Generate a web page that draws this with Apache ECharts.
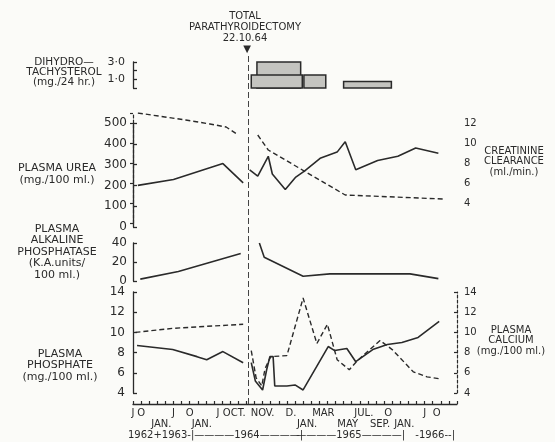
<!DOCTYPE html>
<html><head><meta charset="utf-8">
<script src="https://cdn.jsdelivr.net/npm/echarts/dist/echarts.min.js"></script>
<style>html,body{margin:0;padding:0;background:#fbfbf8}#c{width:555px;height:442px}</style>
</head><body><div id="c"></div><script>
// ---- data (x in axis-position units: one unit per axis tick) ----
const surgeryPos = 14.2;
const doseBoxes = [[15.3, 20.7, 3.0], [14.6, 20.9, 1.5], [21.1, 23.8, 1.5], [26.0, 31.9, 0.75]];
const ureaPre = [[0.6, 200], [5.0, 228], [11.1, 305], [13.6, 212]];
const ureaPost = [[14.4, 275], [15.4, 245], [16.7, 340], [17.2, 255], [18.8, 180], [20.1, 240], [21.2, 270], [23.1, 330], [25.2, 360], [26.2, 410], [27.5, 275], [30.2, 320], [32.7, 340], [34.9, 380], [37.7, 355]];
const creatPre = [[0.6, 13.0], [6.5, 12.3], [9.5, 11.9], [11.5, 11.6], [13.0, 10.8]];
const creatPost = [[15.4, 10.8], [16.7, 9.3], [26.2, 4.8], [38.3, 4.4]];
const alkPre = [[0.9, 2], [5.6, 10], [13.3, 29]];
const alkPost = [[15.6, 40], [16.2, 25], [21.0, 5], [24.3, 7.5], [34.2, 7.5], [37.7, 2.5]];
const phosPre = [[0.5, 8.7], [4.9, 8.3], [7.9, 7.6], [9.1, 7.3], [11.1, 8.1], [13.6, 7.0]];
const phosPost = [[14.6, 7.0], [15.1, 5.2], [16.0, 4.3], [16.5, 6.3], [16.9, 7.6], [17.3, 7.6], [17.5, 4.7], [19.0, 4.7], [20.0, 4.8], [21.0, 4.3], [24.1, 8.6], [24.9, 8.2], [26.4, 8.4], [27.5, 7.1], [29.6, 8.3], [31.4, 8.8], [33.2, 9.0], [35.2, 9.5], [37.8, 11.1]];
const calcPre = [[0.3, 10.0], [4.9, 10.4], [9.1, 10.6], [13.6, 10.8]];
const calcPost = [[14.6, 8.2], [15.2, 5.5], [15.9, 4.7], [16.3, 6.4], [17.0, 7.6], [19.0, 7.7], [21.0, 13.4], [22.7, 8.9], [24.0, 10.8], [25.2, 7.3], [26.7, 6.3], [27.7, 7.2], [30.5, 9.2], [32.0, 8.3], [34.6, 6.1], [36.3, 5.6], [37.9, 5.4]];
// ---- tick labels ----
const doseTickVals = [1, 3], doseTickLabels = ['1·0', '3·0'];
const ureaTicks = [0, 100, 200, 300, 400, 500];
const creatTicks = [4, 6, 8, 10, 12];
const alkTicks = [0, 20, 40];
const phosTicks = [4, 6, 8, 10, 12, 14];
const calcTicks = [4, 6, 8, 10, 12, 14];
const monthPos = [0, 1, 5, 7, 10.5, 12.5, 16, 19.5, 23.5, 28.5, 31.5, 36, 37.5];
const monthLabels = ['J', 'O', 'J', 'O', 'J', 'OCT.', 'NOV.', 'D.', 'MAR', 'JUL.', 'O', 'J', 'O'];
const lowerPos = [3.5, 8.5, 21.5, 26.5, 30.5, 33.5];
const lowerLabels = ['JAN.', 'JAN.', 'JAN.', 'MAY', 'SEP.', 'JAN.'];

const FONT = 'DejaVu Sans';
const INK = '#2a2a2a';
const X_MIN = 0, X_MAX = 40;
const L = 133, W = 324;

function grid(top, height) { return { left: L, width: W, top: top, height: height }; }
function hiddenX(gi) { return { type: 'value', gridIndex: gi, min: X_MIN, max: X_MAX, show: false }; }
function leftY(gi, min, max, interval, ticks, fmt, size, margin) {
  return {
    type: 'value', gridIndex: gi, min: min, max: max, interval: interval, position: 'left',
    splitLine: { show: false },
    axisLine: { show: true, lineStyle: { color: INK, width: 1.3 } },
    axisTick: { show: true, inside: true, length: 4, lineStyle: { color: INK, width: 1.3 } },
    axisLabel: {
      color: INK, fontFamily: FONT, fontSize: size, margin: margin, showMaxLabel: true,
      formatter: fmt || (v => ticks.indexOf(v) >= 0 ? String(v) : '')
    }
  };
}
function rightY(gi, min, max, interval, ticks) {
  return {
    type: 'value', gridIndex: gi, min: min, max: max, interval: interval, position: 'right',
    splitLine: { show: false },
    axisLine: { show: true, lineStyle: { color: INK, width: 1.2, type: [3, 2] } },
    axisTick: { show: true, inside: true, length: 3, lineStyle: { color: INK, width: 1.2 } },
    axisLabel: { color: INK, fontFamily: FONT, fontSize: 10, margin: 7,
      formatter: v => ticks.indexOf(v) >= 0 ? String(v) : '' }
  };
}
function line(data, xi, yi, dashed) {
  return {
    type: 'line', data: data, xAxisIndex: xi, yAxisIndex: yi, symbol: 'none', silent: true,
    lineStyle: { color: INK, width: dashed ? 1.4 : 1.6, type: dashed ? [5, 3] : 'solid' }
  };
}
function txt(x, y, text, size, lh, align) {
  return { type: 'text', x: x, y: y, silent: true,
    style: { text: text, fill: INK, font: size + 'px "' + FONT + '"', textAlign: align || 'center', align: align || 'center',
      textVerticalAlign: 'top', verticalAlign: 'top', lineHeight: lh } };
}

const option = {
  backgroundColor: '#fbfbf8',
  animation: false,
  grid: [grid(62, 26), grid(123, 104), grid(113, 110), grid(243, 38), grid(292, 101), grid(397, 7), grid(55, 349)],
  xAxis: [hiddenX(0), hiddenX(1), hiddenX(2), hiddenX(3), hiddenX(4),
    { type: 'value', gridIndex: 5, min: X_MIN, max: X_MAX, interval: 1, position: 'bottom',
      splitLine: { show: false },
      axisLine: { show: true, lineStyle: { color: INK, width: 1.3 } },
      axisTick: { show: true, inside: true, length: 3, lineStyle: { color: INK, width: 1.2 } },
      axisLabel: { show: false } },
    { type: 'value', gridIndex: 5, min: X_MIN, max: X_MAX, interval: 0.5, position: 'bottom',
      splitLine: { show: false }, axisLine: { show: false }, axisTick: { show: false },
      axisLabel: { show: true, color: INK, fontFamily: FONT, fontSize: 10, margin: 4, lineHeight: 11,
        showMinLabel: true, showMaxLabel: true,
        formatter: v => {
          for (let i = 0; i < monthPos.length; i++) if (Math.abs(monthPos[i] - v) < 1e-6) return monthLabels[i];
          for (let i = 0; i < lowerPos.length; i++) if (Math.abs(lowerPos[i] - v) < 1e-6) return '\n' + lowerLabels[i];
          return '';
        } } },
    hiddenX(6)
  ],
  yAxis: [
    leftY(0, 0, 3, 1, null, v => { const i = doseTickVals.indexOf(v); return i >= 0 ? doseTickLabels[i] : ''; }, 11, 8),
    leftY(1, 0, 500, 100, ureaTicks, null, 12, 6),
    rightY(2, 2, 13, 2, creatTicks),
    leftY(3, 0, 40, 20, alkTicks, null, 12, 6),
    leftY(4, 4, 14, 2, phosTicks, null, 12, 8),
    rightY(4, 4, 14, 2, calcTicks),
    { type: 'value', gridIndex: 5, show: false, min: 0, max: 1 },
    { type: 'value', gridIndex: 6, show: false, min: 0, max: 1 }
  ],
  series: [
    { type: 'custom', xAxisIndex: 0, yAxisIndex: 0, data: doseBoxes, silent: true,
      encode: { x: [0, 1], y: 2 },
      renderItem: (params, api) => {
        const a = api.coord([api.value(0), api.value(2)]);
        const b = api.coord([api.value(1), 0]);
        return { type: 'rect', shape: { x: a[0], y: a[1], width: b[0] - a[0], height: b[1] - a[1] },
          style: { fill: '#c4c4c0', stroke: INK, lineWidth: 1.5 } };
      } },
    line(ureaPre, 1, 1, false), line(ureaPost, 1, 1, false),
    line(creatPre, 2, 2, true), line(creatPost, 2, 2, true),
    line(alkPre, 3, 3, false), line(alkPost, 3, 3, false),
    line(phosPre, 4, 4, false), line(phosPost, 4, 4, false),
    line(calcPre, 4, 5, true), line(calcPost, 4, 5, true),
    { type: 'line', xAxisIndex: 7, yAxisIndex: 7, data: [[surgeryPos, 0.5]], symbol: 'none', silent: true,
      markLine: { silent: true, symbol: ['none', 'none'], label: { show: false },
        lineStyle: { color: '#444', width: 1, type: [6, 3] }, data: [{ xAxis: surgeryPos }] } }
  ],
  graphic: [
    txt(245, 11, 'TOTAL\nPARATHYROIDECTOMY\n22.10.64', 10, 11),
    txt(247, 44, '▼', 10, 10),
    txt(64, 57, 'DIHYDRO—\nTACHYSTEROL\n(mg./24 hr.)', 10.5, 10),
    txt(57, 162, 'PLASMA UREA\n(mg./100 ml.)', 11, 12),
    txt(57, 223, 'PLASMA\nALKALINE\nPHOSPHATASE\n(K.A.units/\n100 ml.)', 11, 11.5),
    txt(60, 348, 'PLASMA\nPHOSPHATE\n(mg./100 ml.)', 11, 11.5),
    txt(514, 146, 'CREATININE\nCLEARANCE\n(ml./min.)', 10, 10.5),
    txt(511, 325, 'PLASMA\nCALCIUM\n(mg./100 ml.)', 10, 10.5),
    txt(128, 430, '1962+1963-|', 10, 11, 'left'),
    txt(303, 430, '————1964————|', 10, 11, 'right'),
    txt(405, 430, '————1965————|', 10, 11, 'right'),
    txt(455, 430, '-1966--|', 10, 11, 'right')
  ]
};
echarts.init(document.getElementById('c'), null, { renderer: 'canvas' }).setOption(option);
</script></body></html>
